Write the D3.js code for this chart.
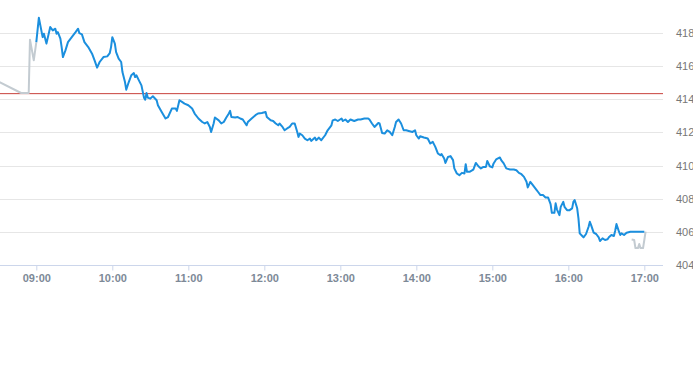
<!DOCTYPE html>
<html>
<head>
<meta charset="utf-8">
<script src="https://cdn.jsdelivr.net/npm/d3@7/dist/d3.min.js"></script>
<style>
body { margin: 0; background: #fff; }
svg { display: block; font-family: "Liberation Sans", Arial, sans-serif; }
</style>
</head>
<body>
<script>
// pre-market (grey)
var preTimes = ["08:31", "08:48", "08:54", "08:55", "08:58", "09:00"];
var preValues = [415.04, 414.38, 414.38, 417.60, 416.35, 417.45];

// regular session (blue)
var sessionTimes = [
  "09:00","09:02","09:05","09:06","09:08","09:11","09:13","09:15","09:16","09:17",
  "09:19","09:20","09:21","09:23","09:25","09:28","09:31","09:33","09:34","09:36",
  "09:38","09:41","09:44","09:46","09:48","09:50","09:53","09:56","09:58","09:59",
  "10:00","10:02","10:03","10:05","10:07","10:08","10:10","10:11","10:13","10:15",
  "10:17","10:18","10:19","10:21","10:23","10:25","10:26","10:27","10:28","10:30",
  "10:32","10:35","10:36","10:39","10:42","10:44","10:47","10:50","10:51","10:53",
  "10:55","10:57","11:00","11:03","11:05","11:08","11:11","11:13","11:15","11:17",
  "11:18","11:20","11:21","11:24","11:26","11:28","11:30","11:32","11:33","11:34",
  "11:37","11:39","11:41","11:43","11:46","11:47","11:50","11:53","11:55","11:58",
  "12:01","12:02","12:05","12:07","12:09","12:11","12:12","12:14","12:16","12:18",
  "12:20","12:22","12:24","12:26","12:27","12:28","12:30","12:32","12:34","12:36",
  "12:37","12:40","12:41","12:43","12:45","12:48","12:50","12:53","12:54","12:56",
  "12:58","13:01","13:02","13:04","13:06","13:08","13:11","13:14","13:16","13:19",
  "13:22","13:23","13:25","13:27","13:30","13:31","13:33","13:35","13:37","13:39",
  "13:41","13:43","13:44","13:46","13:48","13:50","13:52","13:54","13:57","13:59",
  "14:00","14:02","14:03","14:06","14:09","14:11","14:13","14:15","14:17","14:19",
  "14:20","14:22","14:23","14:25","14:27","14:29","14:30","14:32","14:34","14:36",
  "14:38","14:39","14:40","14:42","14:45","14:47","14:49","14:51","14:53","14:55",
  "14:56","14:58","15:00","15:01","15:03","15:06","15:07","15:09","15:11","15:14",
  "15:17","15:19","15:21","15:23","15:25","15:27","15:28","15:30","15:32","15:35",
  "15:36","15:38","15:40","15:42","15:44","15:46","15:47","15:49","15:50","15:51",
  "15:53","15:54","15:56","15:57","15:59","16:01","16:03","16:04","16:05","16:07",
  "16:08","16:09","16:11","16:12","16:14","16:16","16:17","16:18","16:20","16:22",
  "16:24","16:25","16:27","16:29","16:31","16:32","16:34","16:36","16:37","16:38",
  "16:40","16:41","16:42","16:44","16:46","16:49","17:00"
];
var sessionValues = [
  417.45,418.92,417.75,417.96,417.36,418.36,418.16,418.26,417.96,418.05,
  417.66,417.15,416.55,416.95,417.45,417.75,418.05,418.26,417.99,417.92,
  417.45,417.15,416.75,416.35,415.91,416.25,416.55,416.59,416.79,417.15,
  417.75,417.36,416.85,416.45,416.25,415.64,415.04,414.58,415.04,415.45,
  415.58,415.34,415.45,415.14,414.84,414.10,413.98,414.38,414.10,414.04,
  414.18,413.94,413.64,413.23,412.84,412.93,413.44,413.44,413.30,413.94,
  413.84,413.74,413.64,413.44,413.14,412.84,412.63,412.54,412.63,412.33,
  412.03,412.54,412.90,412.73,412.54,412.63,412.90,413.14,413.30,412.93,
  412.90,412.93,412.84,412.78,412.43,412.63,412.84,413.04,413.14,413.17,
  413.23,412.93,412.73,412.69,412.54,412.43,412.54,412.37,412.13,412.24,
  412.33,412.54,412.54,412.03,411.73,411.93,411.83,411.63,411.53,411.63,
  411.49,411.69,411.53,411.69,411.53,411.83,412.13,412.43,412.73,412.78,
  412.69,412.84,412.69,412.78,412.63,412.78,412.69,412.78,412.78,412.84,
  412.84,412.78,412.54,412.33,412.57,412.54,411.97,411.93,412.13,412.03,
  411.83,412.33,412.63,412.78,412.54,412.13,412.13,412.09,412.03,412.13,
  411.83,411.63,411.77,411.69,411.63,411.33,411.43,411.13,410.73,410.63,
  410.69,410.43,410.16,410.52,410.57,410.33,409.83,409.52,409.42,409.56,
  409.52,410.08,409.62,409.62,409.76,410.16,409.96,409.83,409.92,409.92,
  410.28,409.96,409.89,410.13,410.37,410.49,410.33,410.13,409.83,409.76,
  409.76,409.72,409.56,409.48,409.32,409.02,408.68,409.02,408.82,408.52,
  408.42,408.22,408.22,408.08,408.08,407.67,407.15,407.15,407.72,407.36,
  407.01,407.51,407.81,407.51,407.31,407.31,407.42,407.81,407.92,407.42,
  406.81,405.91,405.75,405.67,405.87,406.31,406.61,406.41,405.95,405.87,
  405.67,405.45,405.61,405.51,405.55,405.67,405.81,405.75,406.07,406.47,
  406.01,405.81,405.91,405.81,405.95,406.01,406.01
];

// after-hours (grey)
var postTimes = ["16:50", "16:52", "16:53", "16:55", "16:56", "16:57", "16:59", "17:00", "17:01"];
var postValues = [405.54, 405.51, 405.02, 405.02, 405.27, 405.02, 405.02, 405.51, 406.01];

var prevClose = 414.34;
var yTicks = [404, 406, 408, 410, 412, 414, 416, 418];
var xTickLabels = ["09:00", "10:00", "11:00", "12:00", "13:00", "14:00", "15:00", "16:00", "17:00"];

var width = 693, height = 365;
var plotRight = 663, plotBottom = 265;

var parseTime = d3.timeParse("%H:%M");
var parseSec = d3.timeParse("%H:%M:%S");

var x = d3.scaleTime()
    .domain([parseSec("08:31:20"), parseSec("17:14:45")])
    .range([0, plotRight]);
var y = d3.scaleLinear()
    .domain([404, 418])
    .range([plotBottom, 33]);

var svg = d3.select("body").append("svg")
    .attr("width", width)
    .attr("height", height);

svg.append("defs").append("clipPath")
    .attr("id", "plot")
    .append("rect")
    .attr("x", 0).attr("y", 0)
    .attr("width", plotRight).attr("height", plotBottom);

// grid lines
svg.append("g")
    .selectAll("line")
    .data(yTicks.filter(function(d) { return d !== 404; }))
    .enter().append("line")
    .attr("x1", 0).attr("x2", plotRight)
    .attr("y1", function(d) { return Math.round(y(d)) + 0.5; })
    .attr("y2", function(d) { return Math.round(y(d)) + 0.5; })
    .attr("stroke", "#e6e6e6");

// y labels on the right
svg.append("g")
    .selectAll("text")
    .data(yTicks)
    .enter().append("text")
    .attr("x", 676)
    .attr("y", function(d) { return y(d) + 4; })
    .attr("font-size", 11)
    .attr("fill", "#777")
    .text(function(d) { return d; });

// x axis
var xAxis = d3.axisBottom(x)
    .tickValues(xTickLabels.map(function(s) { return parseTime(s); }))
    .tickFormat(d3.timeFormat("%H:%M"))
    .tickSize(5)
    .tickSizeOuter(0)
    .tickPadding(4);

var gx = svg.append("g")
    .attr("transform", "translate(0," + (plotBottom + 0.5) + ")")
    .call(xAxis);
gx.select(".domain").attr("stroke", "#ccd6eb").attr("d", "M0,0H" + plotRight);
gx.selectAll(".tick line").attr("stroke", "#ccd6eb");
gx.selectAll(".tick text")
    .attr("fill", "#7d8997")
    .attr("font-size", 11)
    .attr("font-weight", "bold")
    .attr("font-family", "Liberation Sans, Arial, sans-serif");

// previous close
svg.append("line")
    .attr("x1", 0).attr("x2", plotRight)
    .attr("y1", y(prevClose)).attr("y2", y(prevClose))
    .attr("stroke", "#c8413c")
    .attr("stroke-width", 1);

var line = d3.line()
    .x(function(d) { return x(d.t); })
    .y(function(d) { return y(d.v); });

function zipSeries(times, values) {
  return times.map(function(t, i) { return {t: parseTime(t), v: values[i]}; });
}

var lines = svg.append("g").attr("clip-path", "url(#plot)");

lines.append("path")
    .datum(zipSeries(preTimes, preValues))
    .attr("d", line)
    .attr("fill", "none")
    .attr("stroke", "#c3cbd1")
    .attr("stroke-width", 2)
    .attr("stroke-linejoin", "round");

lines.append("path")
    .datum(zipSeries(postTimes, postValues))
    .attr("d", line)
    .attr("fill", "none")
    .attr("stroke", "#c3cbd1")
    .attr("stroke-width", 2)
    .attr("stroke-linejoin", "round");

lines.append("path")
    .datum(zipSeries(sessionTimes, sessionValues))
    .attr("d", line)
    .attr("fill", "none")
    .attr("stroke", "#1b8fde")
    .attr("stroke-width", 2)
    .attr("stroke-linejoin", "round");
</script>
</body>
</html>
